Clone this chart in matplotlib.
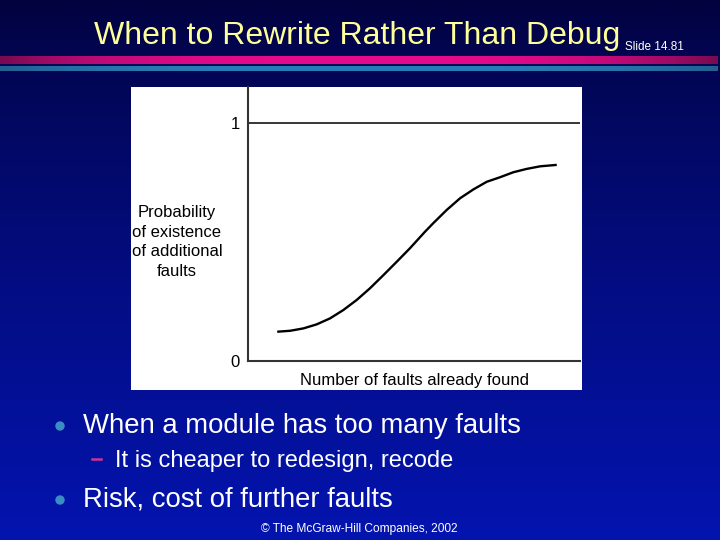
import numpy as np
import matplotlib
matplotlib.use("Agg")
import matplotlib.pyplot as plt
from matplotlib.patches import Rectangle, Circle

plt.rcParams['font.family'] = ['Liberation Sans', 'DejaVu Sans']

# ---- data ----
faults_found = [0.88, 1.27, 1.67, 2.07, 2.47, 2.87, 3.27, 3.67, 4.08, 4.48, 4.88,
                5.33, 5.58, 5.98, 6.39, 6.79, 7.19, 7.59, 7.99, 8.39, 8.80, 9.30]
prob_more = [0.123, 0.127, 0.137, 0.154, 0.179, 0.214, 0.256, 0.305, 0.361, 0.417, 0.474,
             0.543, 0.579, 0.634, 0.684, 0.721, 0.753, 0.772, 0.793, 0.807, 0.818, 0.824]
ytick_vals = [0, 1]
ytick_labels = ["0", "1"]
title = "When to Rewrite Rather Than Debug"
ylabel = "Probability\nof existence\nof additional\nfaults"
xlabel = "Number of faults already found"
bullets = ["When a module has too many faults", "Risk, cost of further faults"]
sub_bullet = "It is cheaper to redesign, recode"
footer = "\u00a9 The McGraw-Hill Companies, 2002"
slide_no = "Slide 14.81"

W, H = 720, 540
fig = plt.figure(figsize=(7.2, 5.4), dpi=100)

# background
bg = fig.add_axes([0, 0, 1, 1])
bg.set_xlim(0, W)
bg.set_ylim(H, 0)
bg.axis('off')
t = np.linspace(0, 1, 256)[:, None]
top = np.array([2, 2, 62]) / 255
bot = np.array([4, 20, 175]) / 255
grad = top + (bot - top) * np.clip(t ** 0.8, 0, 1)[:, :, None] * np.ones((1, 1, 3))
bg.imshow(grad, extent=[0, W, H, 0], aspect='auto', zorder=0)

# decorative bars
u = np.linspace(-1, 1, 400)
w = 1 - np.abs(u) ** 3
mag_c = np.array([230, 10, 140]) / 255
mag_e = np.array([120, 10, 80]) / 255
mag = mag_e + (mag_c - mag_e) * w[:, None]
bg.imshow(mag[None, :, :], extent=[0, 718, 64.5, 57], aspect='auto', zorder=1)
blu_c = np.array([40, 125, 185]) / 255
blu_e = np.array([35, 95, 145]) / 255
blu = blu_e + (blu_c - blu_e) * w[:, None]
bg.imshow(blu[None, :, :], extent=[0, 718, 71, 66.5], aspect='auto', zorder=1)

# white panel
bg.add_patch(Rectangle((131, 87), 451, 303, facecolor='white', edgecolor='none', zorder=2))

# title
bg.text(357, 44, title, color='#ffff99', fontsize=23, ha='center', va='baseline', zorder=3)
bg.text(625, 50, slide_no, color='white', fontsize=8.5, ha='left', va='baseline', zorder=3)

# chart axes
x0, x1, y0, ytop = 248, 580, 361, 87
ax = fig.add_axes([x0 / W, 1 - y0 / H, (x1 - x0) / W, (y0 - ytop) / H])
ax.set_facecolor('none')
ax.set_xlim(0, 10)
ax.set_ylim(0, (y0 - ytop) / (y0 - 123))
ax.plot(faults_found, prob_more, color='black', lw=1.7, solid_joinstyle='round',
        solid_capstyle='butt')
ax.axhline(1, color='black', lw=1.1)
for s in ['top', 'right']:
    ax.spines[s].set_visible(False)
for s in ['left', 'bottom']:
    ax.spines[s].set_color('#333333')
    ax.spines[s].set_linewidth(1.5)
ax.set_xticks([])
ax.set_yticks(ytick_vals)
ax.set_yticklabels(ytick_labels, fontsize=12)
ax.tick_params(axis='y', length=0, pad=6)

bg.text(177, 242, ylabel, fontsize=12, ha='center', va='center', linespacing=1.38, zorder=3)
bg.text(414, 380, xlabel, fontsize=12, ha='center', va='center', zorder=3)

# bullets
bullet_y = [433, 507]
for by, txt in zip(bullet_y, bullets):
    bg.add_patch(Circle((60, by - 7), 4, color='#3a8ec4', zorder=3))
    bg.text(83, by, txt, color='white', fontsize=19.8, ha='left', va='baseline', zorder=3)
bg.plot([92, 101], [459, 459], color='#cc3399', lw=1.8, zorder=3)
bg.text(115, 467, sub_bullet, color='white', fontsize=17, ha='left', va='baseline', zorder=3)

bg.text(359, 532, footer, color='white', fontsize=8.6, ha='center', va='baseline', zorder=3)

fig.savefig('out.png', dpi=100)
